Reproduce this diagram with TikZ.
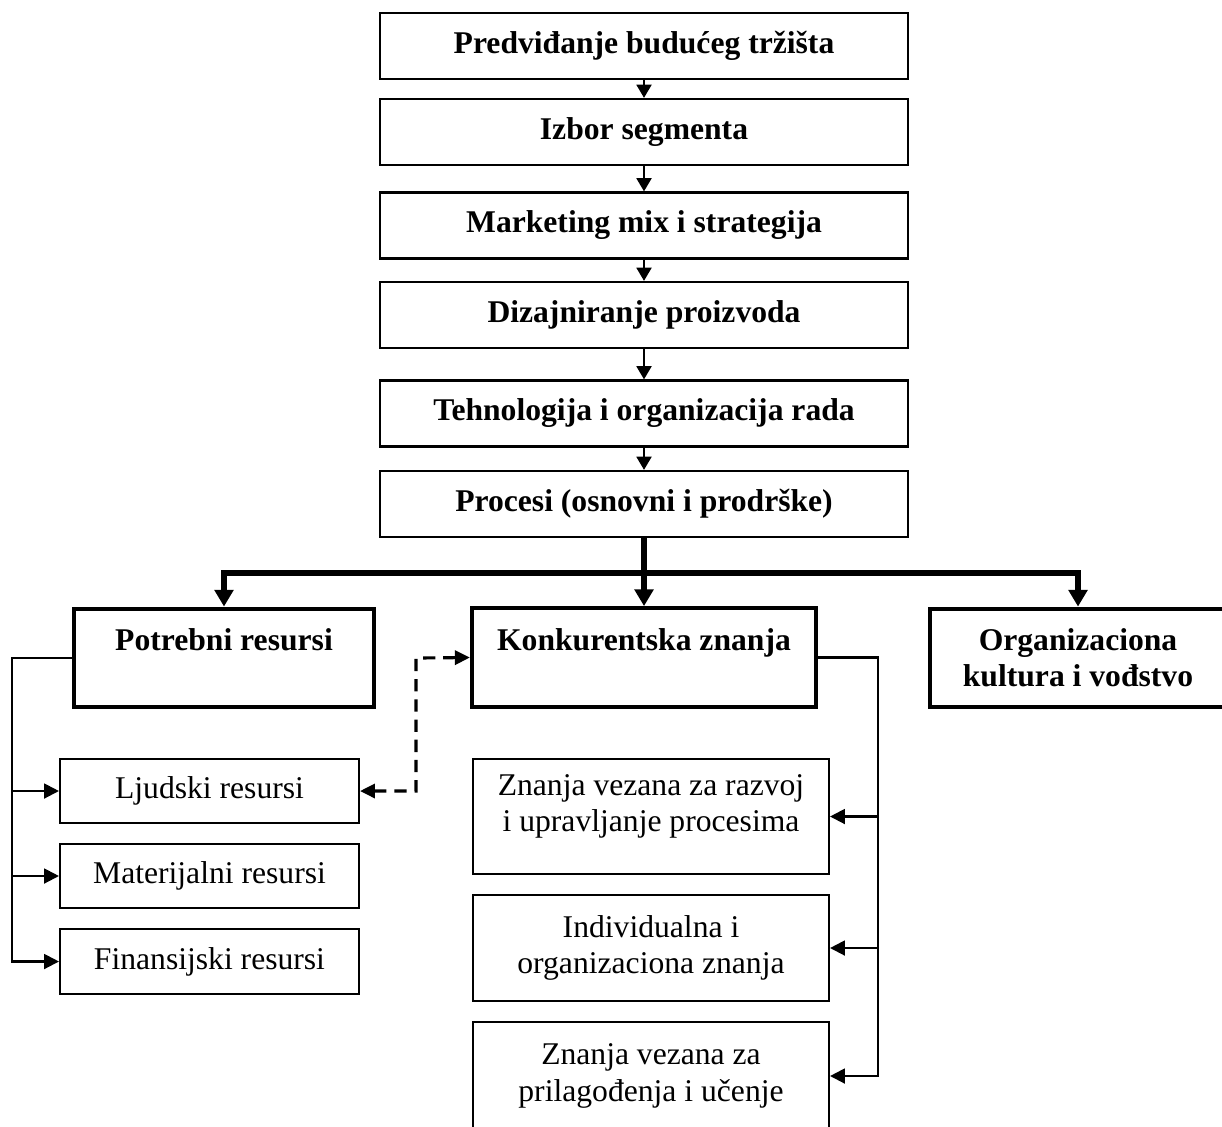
\documentclass[tikz,border=0pt]{standalone}
\usepackage{fontspec}
\setmainfont{Liberation Serif}
\usetikzlibrary{arrows.meta}

\begin{document}
\begin{tikzpicture}[
  x=0.02cm,
  y=-0.02cm,
  every node/.style={font=\fontsize{18}{20.7}\selectfont, align=center,
                     inner sep=0pt},
  stepbox/.style={draw, line width=1.3pt, font=\fontsize{18}{20.7}\selectfont\bfseries,
                  minimum width=10.56cm, minimum height=1.32cm},
  headbox/.style={draw, line width=2.5pt, font=\fontsize{18}{20.7}\selectfont\bfseries,
                  minimum height=1.97cm},
  resbox/.style={draw, line width=1.2pt, minimum width=5.98cm,
                 minimum height=1.29cm},
  knowbox/.style={draw, line width=1.2pt, minimum width=7.12cm},
  steplink/.style={line width=1.2pt, -{Triangle[length=7.5pt, width=8.5pt]}},
  bus/.style={line width=3.3pt, -{Triangle[length=9.5pt, width=10.5pt]}},
  link/.style={line width=1.2pt, -{Triangle[length=8.5pt, width=8.5pt]}},
  dashlink/.style={line width=1.8pt, dash pattern=on 7pt off 4.5pt,
                   {Triangle[length=8.5pt, width=8pt]}-{Triangle[length=8.5pt, width=8pt]}}
]
  \useasboundingbox (0,0) rectangle (1222,1126);

  % ---- the chain at the top --------------------------------------------
  \node[stepbox] (pred)  at (644,46)    {Predviđanje budućeg tržišta};
  \node[stepbox] (izbor) at (644,132)   {Izbor segmenta};
  \node[stepbox] (mix)   at (644,225.5) {Marketing mix i strategija};
  \node[stepbox] (diz)   at (644,315)   {Dizajniranje proizvoda};
  \node[stepbox] (teh)   at (644,413.5) {Tehnologija i organizacija rada};
  \node[stepbox] (proc)  at (644,504)   {Procesi (osnovni i prodrške)};

  \foreach \a/\b in {pred/izbor, izbor/mix, mix/diz, diz/teh, teh/proc}
    \draw[steplink] (\a.south) -- (\b.north);

  % ---- the three heads -------------------------------------------------
  \node[headbox, minimum width=6.0cm]  (potr) at (224,658)
    {Potrebni resursi\\\mbox{}};
  \node[headbox, minimum width=6.88cm] (konk) at (644,657.5)
    {Konkurentska znanja\\\mbox{}};
  \node[headbox, minimum width=5.92cm] (org)  at (1078,658)
    {Organizaciona\\kultura i vođstvo};

  \coordinate (fork) at (644,573);
  \draw[bus] (proc.south) -- (konk.north);
  \draw[bus] (fork) -| (potr.north);
  \draw[bus] (fork) -| (org.north);

  % ---- resources, fed from the left ------------------------------------
  \node[resbox] (ljud) at (209.5,791)   {Ljudski resursi};
  \node[resbox] (mat)  at (209.5,876)   {Materijalni resursi};
  \node[resbox] (fin)  at (209.5,961.5) {Finansijski resursi};

  \coordinate (ltrunk) at (12,0);
  \draw[link] (potr.west) -| (ltrunk |- fin.west) -- (fin.west);
  \foreach \b in {ljud, mat}
    \draw[link] (ltrunk |- \b.west) -- (\b.west);

  % ---- knowledge, fed from the right -----------------------------------
  \node[knowbox, minimum height=2.3cm]  (zn1) at (651,816.5)
    {Znanja vezana za razvoj\\i upravljanje procesima\\[-5pt]\mbox{}};
  \node[knowbox, minimum height=2.12cm] (zn2) at (651,948)
    {Individualna i\\organizaciona znanja};
  \node[knowbox, minimum height=2.16cm] (zn3) at (651,1076)
    {Znanja vezana za\\prilagođenja i učenje};

  \coordinate (rtrunk) at (878,0);
  \draw[link] (konk.east) -| (rtrunk |- zn3.east) -- (zn3.east);
  \foreach \b in {zn1, zn2}
    \draw[link] (rtrunk |- \b.east) -- (\b.east);

  % ---- people and knowledge, both ways ----------------------------------
  \coordinate (dbend) at (416,658);
  \draw[dashlink] (ljud.east) -| (dbend) -- (konk.west);
\end{tikzpicture}
\end{document}
